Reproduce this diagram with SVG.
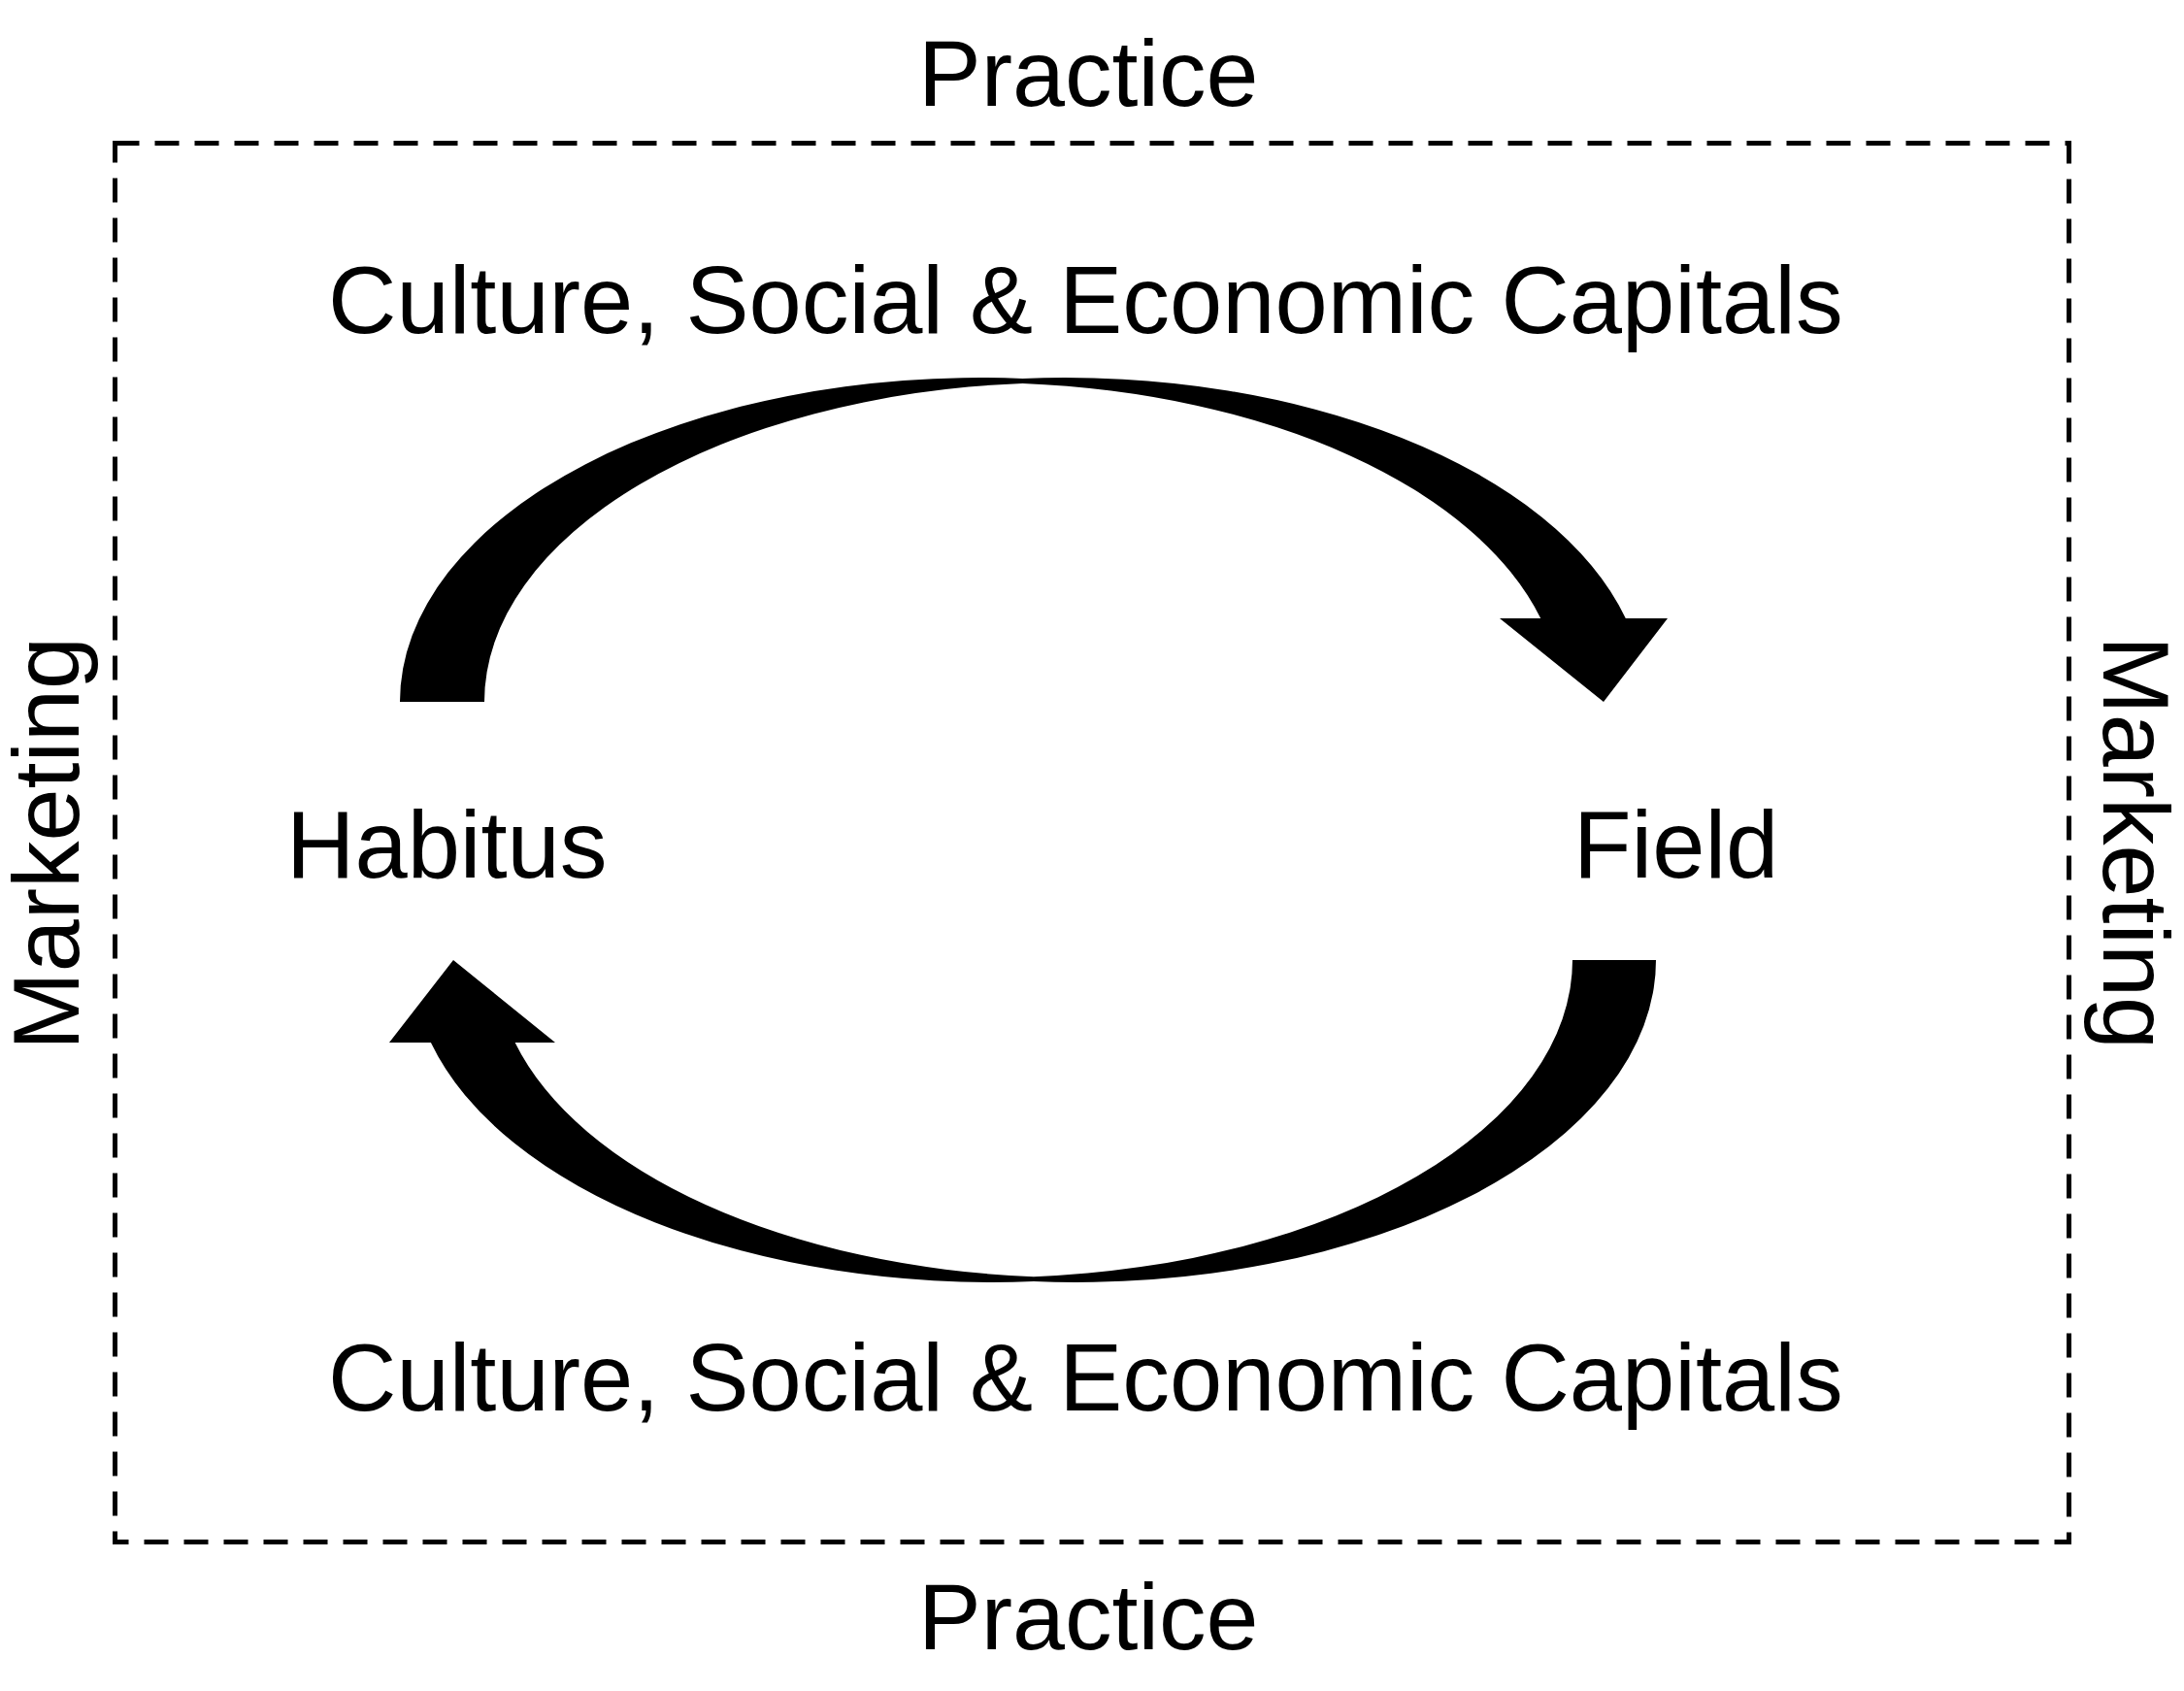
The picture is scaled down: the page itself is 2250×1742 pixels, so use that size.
<svg xmlns="http://www.w3.org/2000/svg" width="2250" height="1742" viewBox="0 0 2250 1742">
<style>
.t{font-family:"Liberation Sans",Arial,sans-serif;fill:#000}
.lg{font-size:97.5px}
.md{font-size:97px}
.frame{fill:none;stroke:#000;stroke-width:5;stroke-dasharray:25 16}
.arrow{fill:#000;stroke:none}
</style>
<rect width="2250" height="1742" fill="#fff"/>
<g id="frame">
<rect class="frame" x="118.5" y="147.5" width="2013" height="1441"/>
</g>
<g id="practice-top"><text class="t md" x="946" y="109">Practice</text></g>
<g id="practice-bottom"><text class="t md" x="946" y="1699">Practice</text></g>
<g id="marketing-left"><text class="t md" text-anchor="middle" transform="translate(81,869) rotate(-90)">Marketing</text></g>
<g id="marketing-right"><text class="t md" text-anchor="middle" transform="translate(2167,868) rotate(90)">Marketing</text></g>
<g id="capitals-top"><text class="t lg" x="338" y="343">Culture, Social &amp; Economic Capitals</text></g>
<g id="capitals-bottom"><text class="t lg" x="338" y="1453">Culture, Social &amp; Economic Capitals</text></g>
<g id="habitus"><text class="t lg" x="295" y="904">Habitus</text></g>
<g id="field"><text class="t lg" x="1621" y="904">Field</text></g>
<g id="connectors">
<path id="arrow-habitus-field" class="arrow" d="M412,723 A598 334 0 0 1 1053.5,389.9 A598 334 0 0 1 1674.8,637 L1718,637 L1652,723 L1545,637 L1587.2,637 A598 329 0 0 0 1053.5,394.9 A598 329 0 0 0 499,723 Z"/>
<path id="arrow-field-habitus" class="arrow" d="M1706,989 A598 332 0 0 1 1065,1320.1 A598 332 0 0 1 443.9,1074 L401,1074 L467,989 L572,1074 L530.6,1074 A598 327 0 0 0 1065,1315.2 A598 327 0 0 0 1620,989 Z"/>
</g>
</svg>
